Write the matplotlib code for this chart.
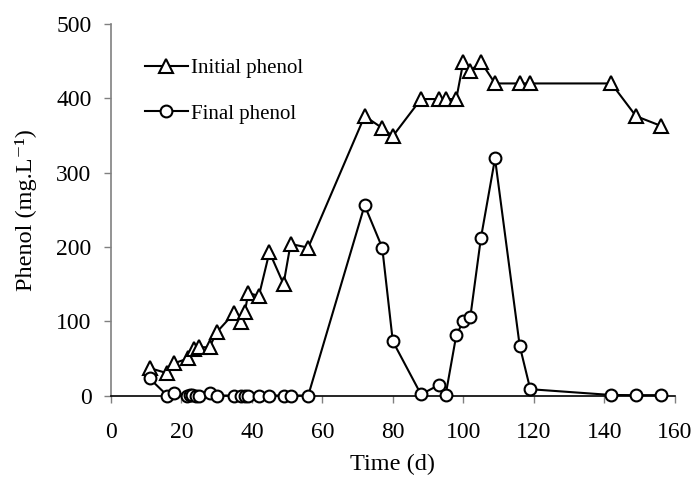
import matplotlib.pyplot as plt

plt.rcParams['font.family'] = ['Liberation Serif', 'DejaVu Serif']

# Initial phenol loading (mg/L) versus time (d)
t_initial = [11, 16, 18, 22, 23.6, 25, 28, 30, 35, 37, 38, 39, 42, 45, 49, 51, 56,
             72, 77, 80, 88, 93, 95, 98, 100, 102, 105, 109, 116, 119, 142, 149, 156]
initial_phenol = [37, 30, 43.5, 50, 62, 65, 65, 85, 111, 99, 112, 138, 134, 193, 150, 204, 199,
                  376, 360, 349, 399, 399, 399, 399, 449, 437, 449, 420, 420, 420, 420, 376, 363]

# Residual phenol in the effluent (mg/L)
t_final = [11, 16, 18, 21.7, 22.4, 23.1, 24.3, 25, 28, 30, 35, 37, 38, 39, 42, 45, 49, 51, 56,
           72, 77, 80, 88, 93, 95, 98, 100, 102, 105, 109, 116, 119, 142, 149, 156]
final_phenol = [23, 0, 4, 0, 1, 1, 0, 0, 4, 0, 0, 0, 0, 0, 0, 0, 0, 0, 0,
                256, 199, 73, 1.5, 14, 1, 81, 100, 106, 212, 319, 67, 8.5, 0.7, 0.5, 0.5]

x_ticks = [0, 20, 40, 60, 80, 100, 120, 140, 160]
y_ticks = [0, 100, 200, 300, 400, 500]

fig = plt.figure(figsize=(6.94, 4.8), dpi=100)
ax = fig.add_axes([0.1597, 0.176, 0.8126, 0.774])

style = dict(color='black', lw=1.5, mfc='white', mec='black', mew=1.5, clip_on=False)
ax.plot(t_initial, initial_phenol, marker='^', ms=9.5, label='Initial phenol', zorder=3, **style)
ax.plot(t_final, final_phenol, marker='o', ms=8.5, label='Final phenol', zorder=4, **style)

ax.set_xlim(0, 160)
ax.set_ylim(0, 500)
ax.set_xticks(x_ticks)
ax.set_yticks(y_ticks)

ax.spines['top'].set_visible(False)
ax.spines['right'].set_visible(False)
ax.spines['left'].set_color('#808080')
ax.spines['left'].set_linewidth(1.2)
ax.spines['bottom'].set_color('black')
ax.spines['bottom'].set_linewidth(1.2)
ax.tick_params(axis='both', direction='out', length=5, width=1, color='#808080',
               labelsize=17)
ax.tick_params(axis='y', pad=9)
ax.tick_params(axis='x', pad=14)

ax.set_xlabel('Time (d)', fontsize=17.5, labelpad=8)
ax.set_ylabel('Phenol (mg.L\u207b\u00b9)', fontsize=17.5, labelpad=14)

ax.legend(loc='upper left', bbox_to_anchor=(0.045, 0.93), frameon=False, fontsize=15,
          handlelength=2.1, handletextpad=0.15, labelspacing=1.25, borderaxespad=0)

fig.savefig('out.png', dpi=100)
